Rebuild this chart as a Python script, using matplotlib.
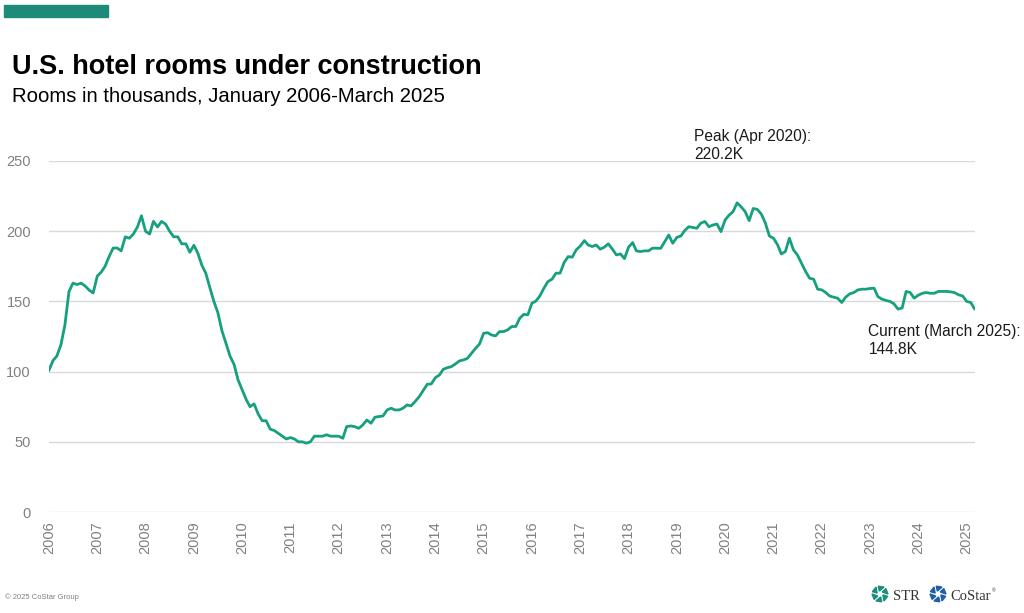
import matplotlib
matplotlib.use("Agg")
import matplotlib.pyplot as plt
import pandas as pd
import numpy as np

# ---- data (thousands of rooms, monthly Jan 2006 - Mar 2025) ----
rooms_2006_2008 = [101, 108, 111, 119, 133, 157, 163, 162, 163, 161, 158, 156,
                   168, 171, 175, 182, 188, 188, 186, 196, 195, 198, 203, 211,
                   200, 198, 207, 203, 207, 205, 200, 196, 196, 191, 191, 185]
rooms_2009_2011 = [190, 184, 176, 170, 160, 150, 142, 129, 120, 111, 105, 94,
                   87, 80, 75, 77, 70, 65, 65, 59, 58, 56, 54, 52,
                   53, 52, 50, 50, 49, 50, 54, 54, 54, 55, 54, 54]
rooms_2012_2014 = [54, 52.5, 60.8, 61.3, 60.8, 59.6, 62.0, 65.5, 63.2, 67.5, 68.0, 68.4,
                   72.7, 73.9, 72.7, 72.7, 73.9, 76.3, 75.6, 78.7, 82.2, 86.5, 91.0, 91.2,
                   95.7, 97.6, 101.6, 102.8, 103.5, 105.4, 107.6, 108.3, 109.5, 113.0, 116.6, 119.7]
rooms_2015_2017 = [127.3, 127.7, 126.1, 125.4, 128.5, 128.5, 129.7, 132.1, 132.1, 138.0, 140.8, 140.4,
                   148.7, 150.3, 153.9, 159.4, 164.1, 165.8, 170.1, 170.1, 177.7, 181.9, 181.5, 186.7,
                   189.5, 193.3, 190.2, 189.1, 190.2, 187.2, 188.6, 191.0, 187.2, 183.1, 183.8, 180.5]
rooms_2018_2020 = [188.6, 191.9, 186.0, 185.5, 186.0, 186.0, 187.9, 187.9, 187.8, 192.5, 197.3, 191.4,
                   195.6, 196.6, 200.4, 203.2, 202.7, 202.1, 205.7, 206.9, 203.2, 204.4, 205.1, 199.7,
                   208.0, 211.5, 213.9, 220.2, 217.4, 213.9, 207.5, 216.2, 215.5, 212.2, 205.7, 196.6]
rooms_2021_2023 = [195.0, 190.3, 183.8, 185.5, 195.0, 186.7, 183.1, 177.2, 171.3, 166.5, 165.8, 158.7,
                   158.2, 156.3, 153.9, 153.0, 152.3, 149.2, 153.0, 155.4, 156.3, 158.2, 158.7, 158.7,
                   159.2, 159.4, 153.5, 151.6, 150.7, 150.0, 148.3, 144.5, 145.3, 157.1, 156.3, 152.3]
rooms_2024_2025 = [154.4, 155.8, 156.3, 155.8, 155.8, 157.1, 157.1, 157.1, 156.8, 156.3, 154.7, 153.9,
                   150.0, 149.2, 144.8]

rooms = (rooms_2006_2008 + rooms_2009_2011 + rooms_2012_2014 + rooms_2015_2017
         + rooms_2018_2020 + rooms_2021_2023 + rooms_2024_2025)
dates = pd.date_range("2006-01-01", periods=len(rooms), freq="MS")

year_labels = [str(y) for y in range(2006, 2026)]
y_ticks = [0, 50, 100, 150, 200, 250]

peak_label = "Peak (Apr 2020):\n220.2K"
current_label = "Current (March 2025):\n144.8K"
title = "U.S. hotel rooms under construction"
subtitle = "Rooms in thousands, January 2006-March 2025"

# ---- figure ----
plt.rcParams["font.family"] = ["Liberation Sans", "DejaVu Sans"]
W, H = 1024, 613
fig = plt.figure(figsize=(W / 100, H / 100), dpi=100)
fig.patch.set_facecolor("white")

def fx(px):
    return px / W

def fy(py):
    return 1 - py / H

ax = fig.add_axes([fx(49), fy(512), fx(975) - fx(49), fy(161) - fy(512)])
line_color = "#16a07f"
ax.plot(dates, rooms, color=line_color, lw=2.0, solid_joinstyle="round", zorder=3)

ax.set_ylim(0, 250)
ax.set_xlim(dates[0], dates[-1] + pd.Timedelta(days=4))
ax.set_yticks(y_ticks)
ax.set_yticklabels([str(v) for v in y_ticks])
ticks = [pd.Timestamp(f"{y}-01-01") for y in year_labels]
ax.set_xticks(ticks)
ax.set_xticklabels(year_labels, rotation=90)
ax.grid(axis="y", color="#d9d9d9", lw=1.0, zorder=0)
ax.grid(axis="x", visible=False)
for s in ax.spines.values():
    s.set_visible(False)
ax.tick_params(axis="both", length=0, labelsize=10.5, labelcolor="#808080")
ax.tick_params(axis="y", pad=13)
ax.tick_params(axis="x", pad=7)

# annotations
peak_i = int(np.argmax(rooms))
ax.annotate(peak_label, xy=(dates[peak_i], rooms[peak_i]), xytext=(-43, 74),
            textcoords="offset pixels", ha="left", va="top", fontsize=11.2,
            color="#1a1a1a", linespacing=1.25, annotation_clip=False)
ax.annotate(current_label, xy=(dates[-1], rooms[-1]), xytext=(-106, -15),
            textcoords="offset pixels", ha="left", va="top", fontsize=11.2,
            color="#1a1a1a", linespacing=1.25, annotation_clip=False)

# header
fig.patches.append(plt.Rectangle((fx(4), fy(16.5)), fx(108) - fx(4), fy(5) - fy(16.5),
                                 transform=fig.transFigure, color="#1e8a79"))
fig.text(fx(12), fy(74), title, fontsize=19.5, fontweight="bold", color="black",
         ha="left", va="baseline")
fig.text(fx(12), fy(101.5), subtitle, fontsize=14.6, color="black", ha="left", va="baseline")

# footer
fig.text(fx(5), fy(599), "\u00a9 2025 CoStar Group", fontsize=5.5, color="#808080",
         ha="left", va="baseline")

def logo(cx, cy, color):
    ang = np.linspace(0, 2 * np.pi, 6, endpoint=False) + 0.3
    r = 5.5
    for a in ang:
        fig.patches.append(plt.Polygon(
            [(fx(cx + (r - 2.5) * np.cos(a)), fy(cy + (r - 2.5) * np.sin(a))),
             (fx(cx + (r + 2.5) * np.cos(a)), fy(cy + (r + 2.5) * np.sin(a))),
             (fx(cx + (r + 2.5) * np.cos(a + 0.75)), fy(cy + (r + 2.5) * np.sin(a + 0.75)))],
            closed=True, transform=fig.transFigure, color=color))

logo(880, 594, "#1a8f7e")
fig.text(fx(893), fy(600), "STR", fontsize=10.5, family=["Liberation Serif"], color="#333333",
         ha="left", va="baseline")
logo(938, 594, "#1f5fa6")
cs = fig.text(fx(950), fy(600), "CoStar", fontsize=10.5, family=["Liberation Serif"],
              color="#333333", ha="left", va="baseline")
fig.canvas.draw()
bb = cs.get_window_extent()
fig.text(fx(bb.x1 + 1), fy(592), "\u00ae", fontsize=3.5, color="#333333", ha="left",
         va="baseline")

fig.savefig("out.png", dpi=100, facecolor="white")
